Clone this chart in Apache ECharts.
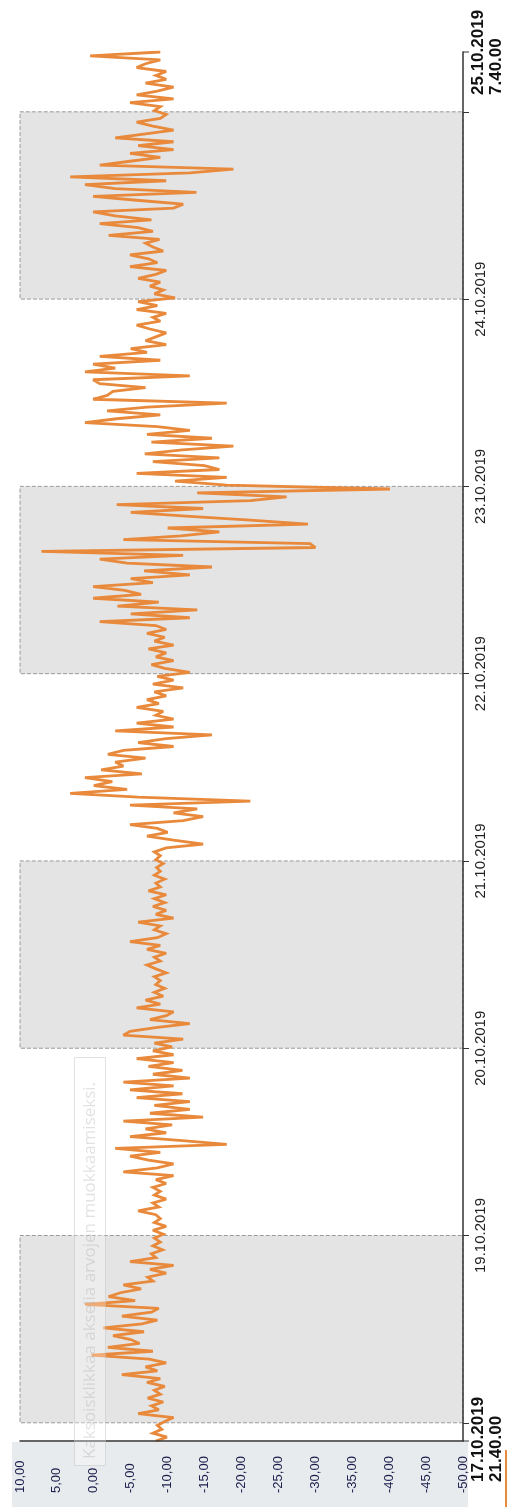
<!DOCTYPE html>
<html><head><meta charset="utf-8">
<script src="https://cdn.jsdelivr.net/npm/echarts@6/dist/echarts.min.js"></script>
<style>html,body{margin:0;padding:0;background:#fff}#c{width:509px;height:1507px}</style>
</head><body><div id="c"></div>
<script>
const startTime = '2019-10-17T21:40:00';
const endTime = '2019-10-25T07:40:00';
const stepMinutes = 30;
const values = [
-8.4,-9.9,-8.0,-9.2,-8.6,-9.6,-10.8,-6.0,-8.8,-7.8,
-9.4,-7.3,-9.0,-8.2,-9.6,-7.2,-9.0,-3.8,-8.6,-7.0,
-9.8,-7.5,0.3,-8.0,-1.9,-6.2,-5.0,-2.6,-6.8,-1.3,
-6.5,-8.6,-3.8,-7.8,-8.8,1.2,-5.6,-2.0,-3.6,-6.4,
-4.0,-8.0,-7.3,-9.8,-7.6,-10.8,-4.9,-8.4,-7.8,-9.3,
-8.0,-9.0,-8.2,-9.4,-8.0,-9.8,-8.2,-9.0,-8.4,
-6.0,-8.8,-8.0,-9.8,-8.2,-9.0,-8.0,-9.8,-8.4,-10.8,
-4.0,-8.6,-10.8,-7.4,-4.9,-9.0,-2.9,-18.0,-12.0,-4.9,
-9.8,-7.0,-10.6,-4.0,-14.8,-7.6,-13.0,-8.2,-13.0,-5.8,
-12.0,-4.9,-10.8,-4.0,-13.0,-8.0,-12.0,-7.4,-10.8,-5.8,
-10.8,-8.0,-10.6,-8.2,-12.1,-4.0,-4.9,-8.6,-13.0,-7.6,
-9.8,-10.8,-5.8,-9.0,-7.0,-9.4,-8.2,-9.6,-8.4,-9.0,
-8.2,-9.8,-8.4,-7.2,-9.0,-8.2,-9.8,-7.2,-9.0,-4.9,
-8.6,-9.8,-8.2,-9.0,-6.0,-10.8,-8.4,-9.8,-8.0,-9.6,
-8.2,-9.8,-7.4,-9.0,-8.4,-9.6,-8.2,-9.0,-8.5,-9.4,
-8.4,-9.0,-8.2,-9.8,-14.8,-10.8,-7.2,-10.0,-8.6,-4.9,
-12.1,-14.8,-10.8,-14.0,-4.9,-21.2,-6.0,3.2,-4.5,0.0,
-2.5,1.2,-6.5,-1.0,-4.0,-2.9,-7.0,-1.9,-4.0,-10.8,
-6.0,-9.8,-16.0,-2.9,-10.8,-5.8,-10.8,-8.4,-9.4,-5.8,
-8.8,-7.2,-9.8,-8.2,-12.1,-8.0,-10.8,-8.6,-13.0,-9.6,
-7.8,-10.8,-8.4,-9.8,-7.4,-10.8,-8.2,-9.6,-7.2,-9.8,
-8.4,-0.8,-13.0,-5.0,-14.0,-3.2,-8.8,0.1,-6.4,-4.2,
0.1,-8.0,-5.0,-13.0,-6.8,-16.0,-4.5,-0.8,-12.1,7.1,
-30.0,-29.3,-4.0,-11.8,-17.0,-10.0,-29.0,-21.2,-13.0,-5.0,
-14.8,-3.1,-21.2,-26.1,-14.0,-40.1,-18.0,-11.0,-18.0,-5.8,
-17.0,-15.0,-8.0,-17.0,-6.9,-12.0,-18.9,-7.8,-16.0,-7.2,
-13.0,-8.6,1.2,-3.1,-9.0,-1.8,-7.2,-18.0,0.1,-1.8,
-2.6,-7.0,-0.8,0.1,-13.0,1.2,-2.9,0.1,-9.0,-0.8,
-7.2,-5.0,-9.8,-7.0,-8.4,-9.8,-7.6,-5.8,-9.0,-8.0,
-9.8,-5.8,-8.6,-6.0,-11.0,-8.2,-9.4,-7.6,-9.0,-6.0,-8.4,
-9.8,-4.9,-8.6,-7.4,-4.9,-9.4,-8.0,-7.0,-8.9,-2.0,
-8.0,-6.0,-0.8,-7.8,-2.9,0.1,-10.8,-12.1,-5.8,0.1,
-13.9,-2.9,1.2,-9.8,3.2,-13.0,-18.9,-0.8,-4.9,-9.0,
-4.9,-10.8,-6.0,-10.8,-2.9,-7.0,-10.8,-8.0,-5.8,-9.0,
-9.8,-8.2,-9.0,-4.9,-10.8,-5.8,-8.6,-10.8,-7.0,-9.8,
-8.4,-9.8,-5.8,-7.0,-9.0,0.5,-9.0
];
const bands = [
  ['2019-10-18T00:00:00','2019-10-19T00:00:00'],
  ['2019-10-20T00:00:00','2019-10-21T00:00:00'],
  ['2019-10-22T00:00:00','2019-10-23T00:00:00'],
  ['2019-10-24T00:00:00','2019-10-25T00:00:00']
];
const valueMin = -50, valueMax = 10, valueStep = 5;
const startLabel = ['17.10.2019', '21.40.00'];
const endLabel = ['25.10.2019', '7.40.00'];
const hintText = 'Kaksoisklikkaa akselia arvojen muokkaamiseksi.';

const DAY = 24 * 3600 * 1000;
const t0 = new Date(startTime).getTime();
const tEnd = new Date(endTime).getTime();
const data = values.map((v, i) => [v, t0 + i * stepMinutes * 60000]);
const pad = n => (n < 10 ? '0' : '') + n;
const fontFam = 'Liberation Sans, Arial, sans-serif';

const chart = echarts.init(document.getElementById('c'), null, {renderer: 'canvas'});
chart.setOption({
  animation: false,
  backgroundColor: '#ffffff',
  grid: {left: 20, right: 46, top: 52, bottom: 66, containLabel: false, outerBoundsMode: 'none'},
  xAxis: {
    type: 'value', position: 'bottom', inverse: true, z: 10,
    min: valueMin, max: valueMax, interval: valueStep,
    axisLine: {show: true, onZero: false, lineStyle: {color: '#333', width: 1.5}},
    axisTick: {show: false}, splitLine: {show: false},
    axisLabel: {
      rotate: 90, align: 'left', verticalAlign: 'middle', margin: 52,
      fontSize: 13, color: '#1c1c4c', fontFamily: fontFam,
      showMinLabel: true, showMaxLabel: true, hideOverlap: false,
      formatter: v => v.toFixed(2).replace('.', ',')
    }
  },
  yAxis: {
    type: 'time', position: 'right', z: 10,
    min: t0, max: tEnd, minInterval: DAY, maxInterval: DAY,
    axisLine: {show: true, onZero: false, lineStyle: {color: '#333', width: 1.5}},
    axisTick: {show: true, inside: false, length: 6, lineStyle: {color: '#333', width: 1}},
    splitLine: {show: false}, minorTick: {show: false},
    axisLabel: {
      rotate: 90, align: 'center', verticalAlign: 'top', margin: 10,
      fontSize: 15, color: '#222', fontFamily: fontFam,
      showMinLabel: false, showMaxLabel: false, hideOverlap: false,
      formatter: function (val) {
        if (val - t0 < DAY / 2 || tEnd - val < DAY / 2) return '';
        const d = new Date(val);
        return pad(d.getDate()) + '.' + pad(d.getMonth() + 1) + '.' + d.getFullYear();
      }
    }
  },
  series: [{
    type: 'line', data: data, symbol: 'none', showSymbol: false, z: 3,
    lineStyle: {color: '#e8893b', width: 2.8, join: 'miter', miterLimit: 3},
    markArea: {
      silent: true,
      itemStyle: {color: '#e4e4e4', borderColor: '#9a9a9a', borderWidth: 1, borderType: 'dashed'},
      data: bands.map(b => [{yAxis: new Date(b[0]).getTime()}, {yAxis: new Date(b[1]).getTime()}])
    }
  }]
});

const yS = chart.convertToPixel({yAxisIndex: 0}, t0);
const yE = chart.convertToPixel({yAxisIndex: 0}, tEnd);
const xR = chart.convertToPixel({xAxisIndex: 0}, valueMin);
const xL = chart.convertToPixel({xAxisIndex: 0}, valueMax);
const H = chart.getHeight();

chart.setOption({
  graphic: [
    {type: 'rect', z: -10, shape: {x: xL - 8, y: yS + 1, width: xR - xL + 13, height: H - yS}, style: {fill: '#e8ebed'}},
    {type: 'line', z: 20, shape: {x1: xR, y1: yS, x2: xR + 6, y2: yS}, style: {stroke: '#333', lineWidth: 1}},
    {type: 'line', z: 20, shape: {x1: xR, y1: yE, x2: xR + 6, y2: yE}, style: {stroke: '#333', lineWidth: 1}},
    {type: 'text', z: 20, x: xR + 6, y: yS + 41, rotation: Math.PI / 2,
      style: {text: startLabel.join('\n'), fontSize: 17, fontWeight: 'bold', fontFamily: fontFam, fill: '#111', align: 'left', verticalAlign: 'top', lineHeight: 18}},
    {type: 'text', z: 20, x: xR + 6, y: yE + 43, rotation: Math.PI / 2,
      style: {text: endLabel.join('\n'), fontSize: 17, fontWeight: 'bold', fontFamily: fontFam, fill: '#111', align: 'left', verticalAlign: 'top', lineHeight: 18}},
    {type: 'line', z: 20, shape: {x1: xR + 43, y1: yS + 9, x2: xR + 43, y2: H}, style: {stroke: '#e8893b', lineWidth: 2}},
    {type: 'rect', z: 30, shape: {x: 74.5, y: 1057.5, width: 31, height: 408}, style: {fill: 'rgba(255,255,255,0.3)', stroke: 'rgba(190,190,190,0.45)', lineWidth: 1}},
    {type: 'text', z: 31, x: 90, y: 1459, rotation: Math.PI / 2,
      style: {text: hintText, fontSize: 17, fontFamily: 'Open Sans, sans-serif', fill: 'rgba(160,160,160,0.3)', align: 'left', verticalAlign: 'middle'}}
  ]
});
</script>
</body></html>
